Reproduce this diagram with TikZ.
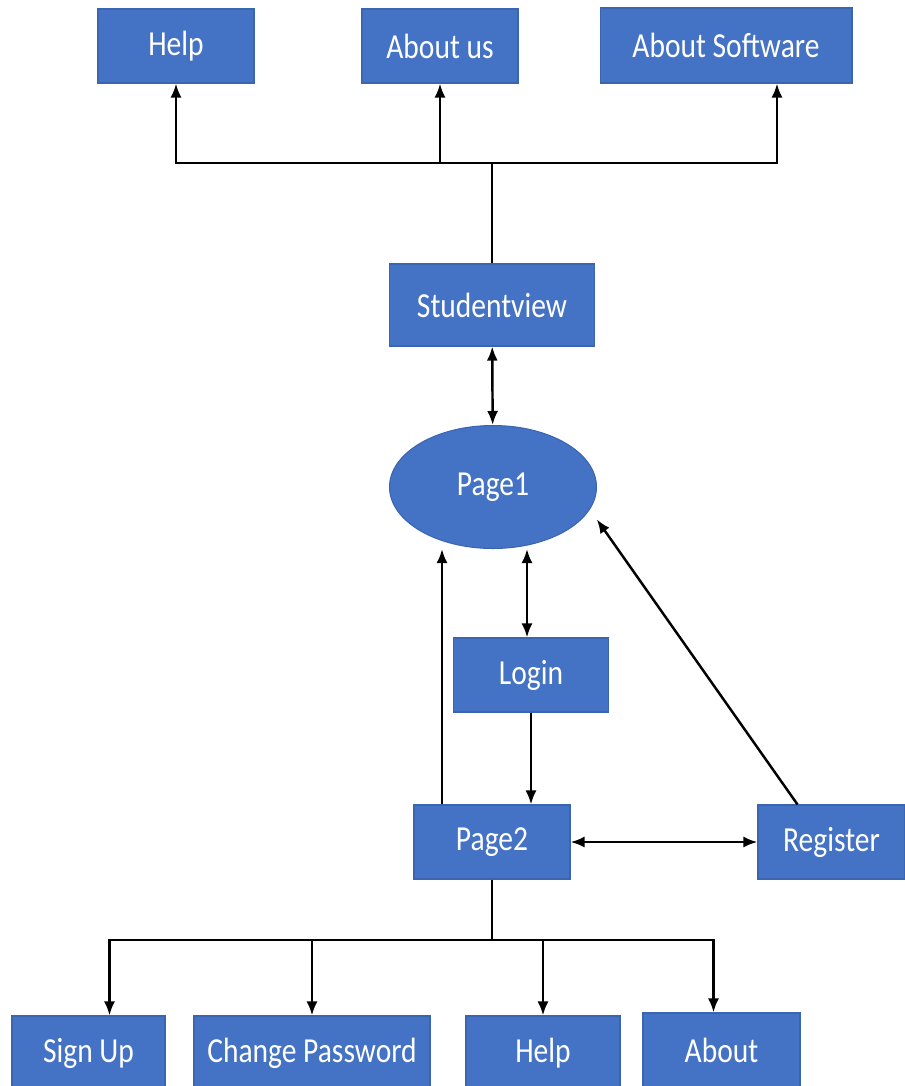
\documentclass[tikz,border=0pt]{standalone}
\usepackage{fontspec}
\setmainfont{Carlito}[FakeStretch=0.84]
\usetikzlibrary{arrows.meta,positioning,shapes}
\definecolor{officeblue}{HTML}{4472C4}
\definecolor{officeedge}{HTML}{3B65B0}
\tikzstyle{pagebox}=[
	rectangle,
	fill=officeblue,
	draw=officeedge,
	line width=0.6pt,
	text=white,
	font=\fontsize{20}{22}\selectfont,
	minimum height=1.48cm,
	inner sep=0]
\tikzstyle{pageoval}=[
	pagebox,
	ellipse]

\begin{document}
\begin{tikzpicture}[x=0.02cm,y=-0.02cm,>={Latex[length=0.28cm,width=0.22cm]},line width=1.4pt,line join=miter]
	\useasboundingbox (0,0) rectangle (905,1086);
	% studentview and its menu
	\node[pagebox,minimum width=3.12cm]	(help)	at (176,46) {Help};
	\node[pagebox,minimum width=3.12cm]	(aboutus)	at (440,46) {About us};
	\node[pagebox,minimum width=5.04cm,minimum height=1.5cm]	(aboutsw)	at (726,45.5) {About Software};
	\node[pagebox,minimum width=4.1cm,minimum height=1.64cm]	(studentview)	at (492,305) {Studentview};
	\coordinate (topfork) at (492,163);
	\draw (studentview) -- (topfork);
	\draw[->] (topfork) -| (help);
	\draw[->] (topfork) -| (aboutus);
	\draw[->] (topfork) -| ([xshift=1.02cm]aboutsw.south);
	% pages
	\node[pageoval,minimum width=4.14cm,minimum height=2.46cm]	(page1)	at (493,487) {Page1};
	\node[pagebox,minimum width=3.1cm]	(login)	at (531,675) {Login};
	\node[pagebox,minimum width=3.12cm]	(page2)	at (492,842) {Page2};
	\node[pagebox,minimum width=2.94cm]	(register)	at (831.5,842) {Register};
	\draw[<->] (studentview) -- (page1);
	\draw[<->] ([xshift=-0.08cm]login.north) -- ([xshift=-0.08cm]login.north |- page1.south);
	\draw[->] (login) -- (login |- page2.north);
	\draw[->] ([xshift=-1cm]page2.north) -- ([xshift=-1cm]page2.north |- page1.south);
	\draw[<->] (page2) -- (register);
	\draw[->] ([xshift=-0.68cm]register.north) -- ([xshift=0.3cm]page1.-20);
	% page2 menu
	\node[pagebox,minimum width=3.06cm]	(signup)	at (88.5,1053) {Sign Up};
	\node[pagebox,minimum width=4.72cm]	(changepw)	at (312,1053) {Change Password};
	\node[pagebox,minimum width=3.08cm]	(help2)	at (543,1053) {Help};
	\node[pagebox,minimum width=3.14cm]	(about)	at (721.5,1050) {About};
	\coordinate (botfork) at (492,940);
	\draw (page2) -- (botfork);
	\draw[->] (botfork) -| ([xshift=0.42cm]signup.north);
	\draw[->] (botfork) -| (changepw);
	\draw[->] (botfork) -| (help2);
	\draw[->] (botfork) -| ([xshift=-0.16cm]about.north);
\end{tikzpicture}
\end{document}
